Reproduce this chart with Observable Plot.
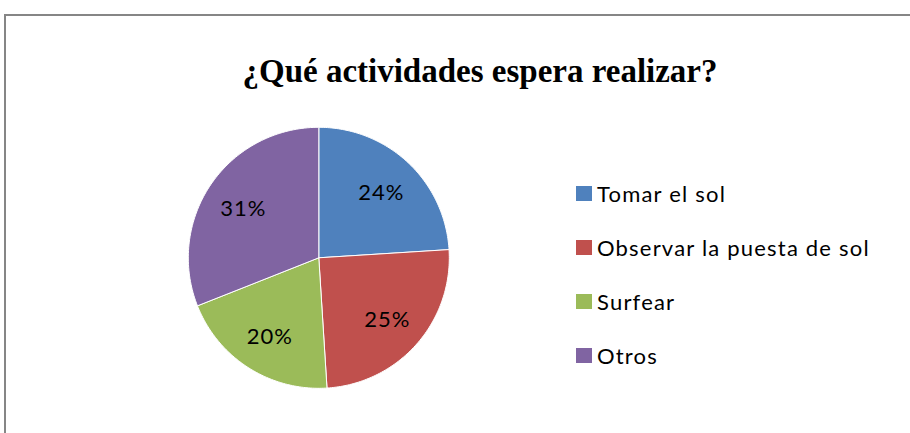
<!DOCTYPE html>
<html>
<head>
<meta charset="utf-8">
<script src="https://cdn.jsdelivr.net/npm/d3@7"></script>
<script src="https://cdn.jsdelivr.net/npm/@observablehq/plot@0.6"></script>
<style>
  html, body { margin: 0; padding: 0; background: #fff; }
  #wrap { position: relative; width: 910px; height: 433px; overflow: hidden; background: #fff; }
  #frame { position: absolute; left: 4px; top: 14px; width: 1000px; height: 1000px;
           border-top: 2px solid #868686; border-left: 2px solid #868686; box-sizing: border-box; }
  #title { position: absolute; left: 0; width: 960px; top: 51px; text-align: center;
           font-family: "Liberation Serif", "Times New Roman", serif; font-weight: bold;
           font-size: 33px; line-height: 40px; color: #000; white-space: nowrap; }
  #chart { position: absolute; left: 0; top: 0; }
  #legend { position: absolute; left: 576px; top: 0; font-family: Lato, "Open Sans", sans-serif; }
  .item { position: absolute; left: 0; display: flex; align-items: center; height: 30px;
          white-space: nowrap; font-size: 22px; letter-spacing: 1.2px; color: #000; }
  .sw { width: 16px; height: 15px; margin-right: 5px; flex: none; }
</style>
</head>
<body>
<div id="wrap">
  <div id="frame"></div>
  <div id="chart"></div>
  <div id="title"></div>
  <div id="legend"></div>
</div>
<script>
const title = "¿Qué actividades espera realizar?";
const categories = ["Tomar el sol", "Observar la puesta de sol", "Surfear", "Otros"];
const values = [24, 25, 20, 31];
const colors = ["#4F81BD", "#C0504D", "#9BBB59", "#8064A2"];

// layout
const cx = 318.3, cy = 257.3, r = 130.5;

const arcs = d3.pie().sort(null).value(d => d)(values);
const pts = [];
arcs.forEach((a, i) => {
  const n = 90;
  pts.push({x: 0, y: 0, cat: categories[i]});
  for (let k = 0; k <= n; k++) {
    const t = a.startAngle + (a.endAngle - a.startAngle) * k / n;
    pts.push({x: Math.sin(t), y: Math.cos(t), cat: categories[i]});
  }
  pts.push({x: 0, y: 0, cat: categories[i]});
});
const labelData = arcs.map((a, i) => {
  const m = (a.startAngle + a.endAngle) / 2;
  return {x: 0.7 * Math.sin(m), y: 0.7 * Math.cos(m), text: values[i] + "%"};
});

const plot = Plot.plot({
  width: 910,
  height: 433,
  margin: 0,
  style: {background: "transparent", overflow: "visible"},
  x: {domain: [-1, 1], range: [cx - r, cx + r], axis: null},
  y: {domain: [-1, 1], range: [cy + r, cy - r], axis: null},
  color: {domain: categories, range: colors},
  marks: [
    Plot.line(pts, {x: "x", y: "y", z: "cat", fill: "cat", stroke: "white", strokeWidth: 1, curve: "linear"}),
    Plot.text(labelData, {x: "x", y: "y", text: "text", fontSize: 22, dy: 2,
      fontFamily: "Lato, 'Open Sans', sans-serif", fill: "#000", style: "letter-spacing:1px"})
  ]
});
plot.querySelectorAll("text").forEach(t => t.style.letterSpacing = "1px");
document.getElementById("chart").appendChild(plot);
document.getElementById("title").textContent = title;

const legendYs = [193.3, 247.3, 301.7, 355.7];
const lg = document.getElementById("legend");
categories.forEach((c, i) => {
  const it = document.createElement("div");
  it.className = "item";
  it.style.top = (legendYs[i] - 15) + "px";
  const sw = document.createElement("span");
  sw.className = "sw";
  sw.style.background = colors[i];
  const tx = document.createElement("span");
  tx.textContent = c;
  it.appendChild(sw); it.appendChild(tx);
  lg.appendChild(it);
});
</script>
</body>
</html>
